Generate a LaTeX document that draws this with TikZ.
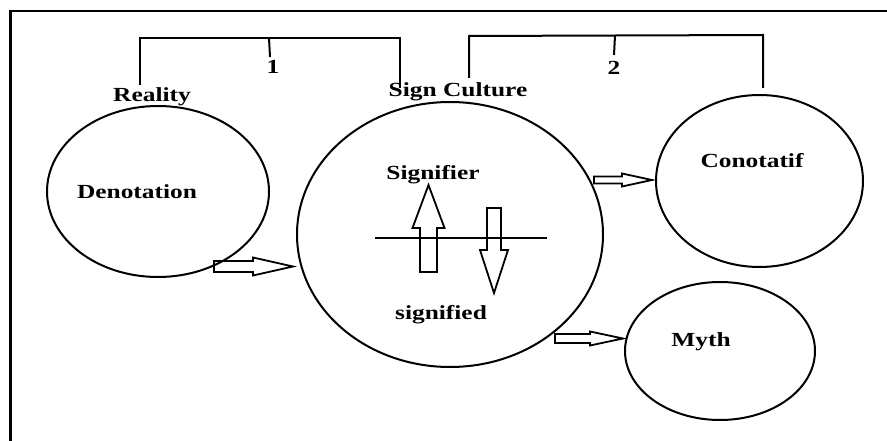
\documentclass[tikz,border=0pt]{standalone}
\usepackage{fontspec}
\usepackage{graphicx}
\setmainfont{Liberation Serif}
\usetikzlibrary{shapes.geometric}
% wide bold lettering
\newcommand\widetext[1]{\scalebox{1.27}[1]{#1}}
% hollow block arrow: start, rotation, length, shaft half-width, head half-width, head length
\newcommand\blockarr[6]{%
  \draw[blk,shift={#1},rotate=#2] (0,-#4) -- (#3-#6,-#4) -- (#3-#6,-#5) -- (#3,0)
    -- (#3-#6,#5) -- (#3-#6,#4) -- (0,#4) -- cycle;}
\begin{document}
\begin{tikzpicture}[x=1pt,y=-1pt,
  lbl/.style={font=\fontsize{20}{22}\selectfont\bfseries, inner sep=0pt, anchor=base},
  ring/.style={draw, ellipse, line width=2pt, inner sep=0pt},
  rule/.style={line width=2pt},
  frameline/.style={line width=2.8pt},
  blk/.style={line width=1.8pt, line join=miter}]
\useasboundingbox (0,0) rectangle (887,441);

% outer frame (left and top edges)
\coordinate (fbl) at (10.5,445);
\coordinate (ftl) at (10.5,11);
\coordinate (ftr) at (892,11);
\draw[frameline] (fbl) -- (ftl) -- (ftr);

% ellipses
\node[ring, minimum width=222pt, minimum height=171pt] (den) at (158,191.5) {};
\node[ring, minimum width=306pt, minimum height=265pt] (sign) at (450,234.5) {};
\node[ring, minimum width=207pt, minimum height=172pt] (con) at (759.5,181) {};
\node[ring, minimum width=190pt, minimum height=138pt] (myth) at (720,351) {};

% labels
\node[lbl] (lreal) at (152,102) {\widetext{Reality}};
\node[lbl] (lsign) at (458,97) {\widetext{Sign Culture}};
\node[lbl] (lone) at (273,74) {\widetext{1}};
\node[lbl] (ltwo) at (614,75) {\widetext{2}};
\node[lbl] (lden) at (137,199) {\widetext{Denotation}};
\node[lbl] (lsfr) at (433,180) {\widetext{Signifier}};
\node[lbl] (lsfd) at (441,319) {\widetext{signified}};
\node[lbl] (lcon) at (752,168) {\widetext{Conotatif}};
\node[lbl] (lmyth) at (701,346) {\widetext{Myth}};

% bracket 1: Reality -- Sign Culture
\coordinate (b1a) at (140,85);
\coordinate (b1b) at (140,38);
\coordinate (b1c) at (400,38);
\coordinate (b1d) at (400,88);
\coordinate (t1a) at (269,38);
\coordinate (t1b) at (270,57);
\draw[rule] (b1a) -- (b1b) -- (b1c) -- (b1d);
\draw[rule] (t1a) -- (t1b);

% bracket 2: Sign Culture -- Conotatif
\coordinate (b2a) at (469,78);
\coordinate (b2b) at (469,36);
\coordinate (b2c) at (763,35);
\coordinate (b2d) at (763,88);
\coordinate (t2a) at (615,35.5);
\coordinate (t2b) at (614,55);
\draw[rule] (b2a) -- (b2b) -- (b2c) -- (b2d);
\draw[rule] (t2a) -- (t2b);

% dividing bar between signifier and signified
\coordinate (barl) at (375,238);
\coordinate (barr) at (547,238);
\draw[rule] (barl) -- (barr);

% hollow arrows
\blockarr{(214,266.5)}{0}{79}{5.5}{9}{40}
\blockarr{(594,180)}{0}{58}{3.5}{6.5}{30}
\blockarr{(555,338.5)}{0}{68}{4.5}{7}{33}
\blockarr{(428.5,272)}{90}{87}{8.5}{16}{43}
\blockarr{(494,208)}{-90}{85}{7}{14}{43}
\end{tikzpicture}
\end{document}
